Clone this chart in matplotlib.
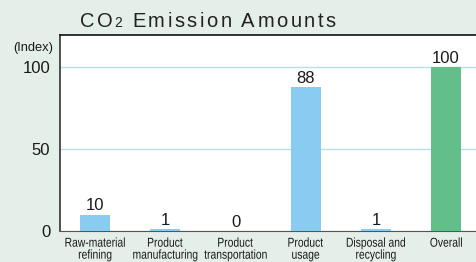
import matplotlib
matplotlib.use("Agg")
import matplotlib.pyplot as plt
from matplotlib.font_manager import FontProperties
from matplotlib.patches import PathPatch
from matplotlib.textpath import TextPath
from matplotlib.transforms import Affine2D

categories = ["Raw-material\nrefining", "Product\nmanufacturing", "Product\ntransportation",
              "Product\nusage", "Disposal and\nrecycling", "Overall"]
values = [10, 1, 0, 88, 1, 100]
labels = ["10", "1", "0", "88", "1", "100"]
yticks = [0, 50, 100]

BG = "#e5efe9"
BLUE = "#8acbf2"
GREEN = "#62bf89"
INK = "#1a1a1a"
plt.rcParams["font.family"] = ["Liberation Sans", "DejaVu Sans"]

DPI = 100
fig = plt.figure(figsize=(4.77, 2.62), dpi=DPI, facecolor=BG)
ax = fig.add_axes([60 / 477, 1 - 231 / 262, 1 - 60 / 477, (231 - 35) / 262])
ax.set_facecolor("white")

x = list(range(len(categories)))
colors = [BLUE] * (len(categories) - 1) + [GREEN]
ax.bar(x, values, width=0.43, color=colors, zorder=3)
for xi, v, lab in zip(x, values, labels):
    ax.text(xi, v + 2.5, lab, ha="center", va="baseline", fontsize=12, color=INK)

ax.set_xlim(-0.5, 5.44)
ax.set_ylim(0, 119.5)
ax.set_yticks(yticks)
ax.set_yticklabels([str(t) for t in yticks], fontsize=12, color=INK)
ax.yaxis.grid(True, color="#b6e0e4", linewidth=1, zorder=0)
ax.tick_params(axis="y", length=0, pad=7)
ax.set_xticks(x)
ax.set_xticklabels([])
ax.tick_params(axis="x", length=0)

ax.spines["right"].set_visible(False)
ax.spines["top"].set_color("#111111")
ax.spines["left"].set_color("#333333")
ax.spines["bottom"].set_color("#555555")
ax.spines["left"].set_linewidth(1.2)
ax.spines["top"].set_linewidth(1.2)

# condensed category labels: Liberation Sans squeezed horizontally
fp = FontProperties(family="Liberation Sans")
sx, fs = 0.8, 9.3
for xi, cat in zip(x, categories):
    xd = ax.transData.transform((xi, 0))[0]
    for k, line in enumerate(cat.split("\n")):
        tp = TextPath((0, 0), line, size=fs, prop=fp)
        ext = tp.get_extents()
        w = (ext.x0 + ext.x1) / 2
        yd = DPI * 2.62 - (246.7 + 12 * k)
        tr = Affine2D().translate(-w, 0).scale(sx * DPI / 72, DPI / 72).translate(xd, yd)
        fig.patches.append(PathPatch(tp, transform=tr, color=INK, lw=0))

# title with wide letter spacing, drawn one character at a time
fig.canvas.draw()
renderer = fig.canvas.get_renderer()
xpos = 80
for ch, size in [("C", 14.5), ("O", 14.5), ("2", 10)] + [(c, 14.5) for c in " Emission Amounts"]:
    t = fig.text(xpos / 477, 1 - 27 / 262, ch, fontsize=size, va="baseline", ha="left",
                 color="#222222")
    w = t.get_window_extent(renderer).width if ch != " " else 5
    xpos += w + (1.5 if ch == "O" else 2.5)

fig.text(53 / 477, 1 - 47.5 / 262, "(Index)", fontsize=9.3, va="center", ha="right", color=INK)

fig.savefig("out.png", dpi=DPI, facecolor=BG)
